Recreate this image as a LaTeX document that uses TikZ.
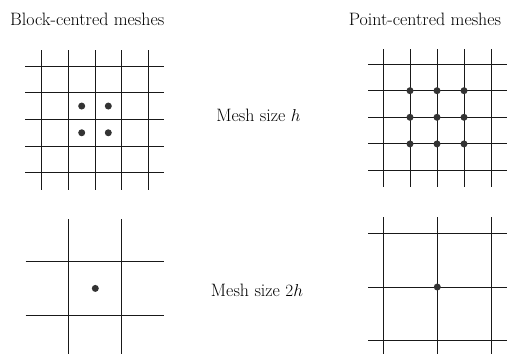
\documentclass[tikz,border=0pt]{standalone}
\usetikzlibrary{calc,positioning}
\tikzset{>=latex}
\tikzset{meshline/.style={line width=1bp, black!90}}
\tikzset{meshdot/.style={fill=black!80}}
\tikzset{meshlabel/.style={font=\fontsize{18}{21}\selectfont, inner sep=0pt}}
\begin{document}
\begin{tikzpicture}[x=1bp, y=-1bp]
        \useasboundingbox (0,0) rectangle (515,354); %
        \coordinate (BF) at (95,119.4); % block-centred, mesh size h
        \coordinate (PF) at (437,117.3); % point-centred, mesh size h
        \coordinate (BC) at (95.3,288.4); % block-centred, mesh size 2h
        \coordinate (PC) at (437.3,287); % point-centred, mesh size 2h
        % headings
        \node[meshlabel, anchor=base west] (blocktitle) at (10,25.3)
          {Block-centred meshes}; %
        \node[meshlabel, anchor=base] (pointtitle) at (425,25.3)
          {Point-centred meshes}; %
        \node[meshlabel, anchor=base] (finesize) at (258.5,121.2)
          {Mesh size $h$}; %
        \node[meshlabel, anchor=base] (coarsesize) at (257,296)
          {Mesh size $2h$}; %
        % fine meshes
        \begin{scope}[meshline]
          \foreach \i in {-2,...,2} {
            \draw ($(BF)+(\i*26.6,-69)$) -- ($(BF)+(\i*26.6,71)$); %
            \draw ($(BF)+(-70,\i*26.7)$) -- ($(BF)+(69,\i*26.7)$); %
            \draw ($(PF)+(\i*27,-68.3)$) -- ($(PF)+(\i*27,69.7)$); %
            \draw ($(PF)+(-69,\i*26.6)$) -- ($(PF)+(70,\i*26.6)$); %
          }
        \end{scope}
        \foreach \i in {-0.5,0.5}
          \foreach \j in {-0.5,0.5}
            \fill[meshdot] ($(BF)+(\i*26.6,\j*26.7)$) circle[radius=3.5bp]; %
        \foreach \i in {-1,0,1}
          \foreach \j in {-1,0,1}
            \fill[meshdot] ($(PF)+(\i*27,\j*26.6)$) circle[radius=3.5bp]; %
        % coarse meshes
        \begin{scope}[meshline]
          \foreach \i in {-0.5,0.5} {
            \draw ($(BC)+(\i*52.7,-69.4)$) -- ($(BC)+(\i*52.7,66)$); %
            \draw ($(BC)+(-69.6,\i*53.3)$) -- ($(BC)+(69,\i*53.3)$); %
          }
          \foreach \i in {-1,0,1} {
            \draw ($(PC)+(\i*53.8,-70)$) -- ($(PC)+(\i*53.8,67)$); %
            \draw ($(PC)+(-69.3,\i*53.4)$) -- ($(PC)+(70,\i*53.4)$); %
          }
        \end{scope}
        \fill[meshdot] (BC) circle[radius=3.5bp]; %
        \fill[meshdot] (PC) circle[radius=3.5bp]; %
      \end{tikzpicture}
\end{document}
